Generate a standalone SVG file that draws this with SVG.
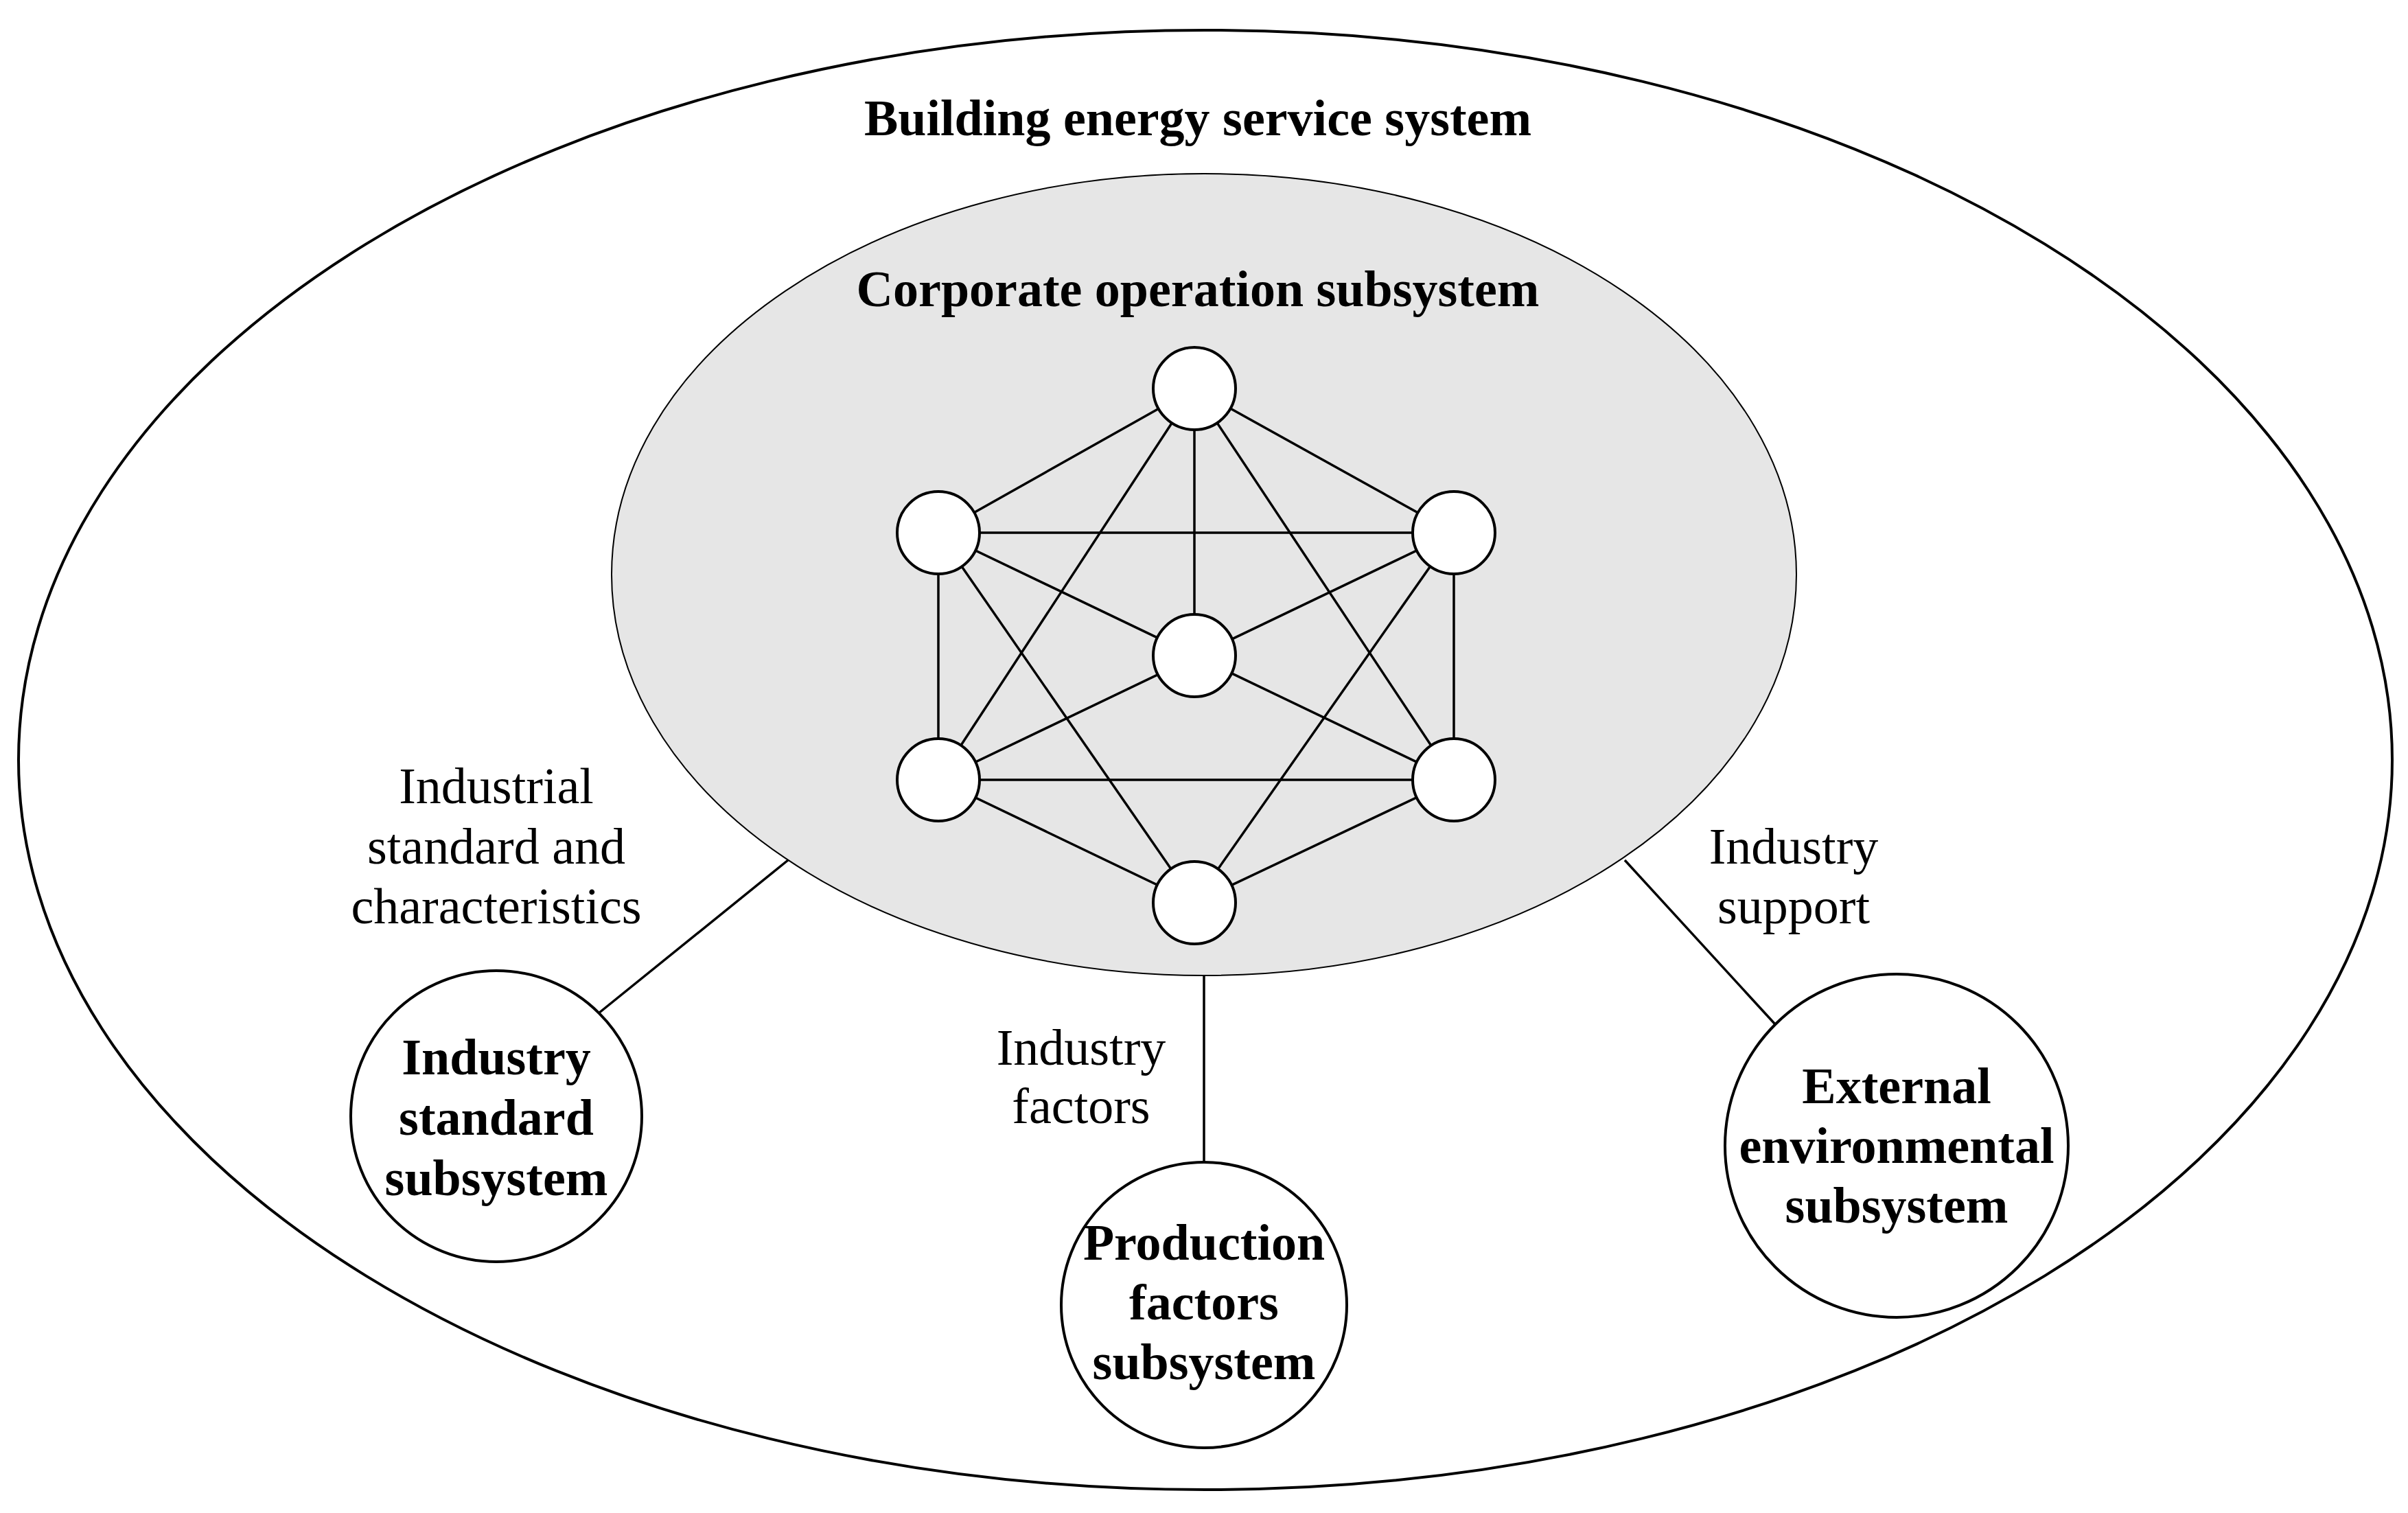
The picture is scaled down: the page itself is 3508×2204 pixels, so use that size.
<svg xmlns="http://www.w3.org/2000/svg" width="3508" height="2204" viewBox="0 0 3508 2204">
<style>
.o{fill:none;stroke:#000;stroke-width:4}
.n{fill:#fff;stroke:#000;stroke-width:4}
.e line{stroke:#000;stroke-width:3.5}
text{font-family:"Liberation Serif",serif;font-size:74px;text-anchor:middle;dominant-baseline:central;fill:#000}
.b{font-weight:bold}
</style>
<rect width="3508" height="2204" fill="#fff"/>
<g id="outer"><ellipse class="o" cx="1756" cy="1107" rx="1729" ry="1063"/><text class="b" x="1745" y="172">Building energy service system</text></g>
<g id="connectors" class="e">
<line x1="1148" y1="1253" x2="872" y2="1476"/>
<line x1="1754" y1="1420" x2="1754" y2="1693"/>
<line x1="2367" y1="1253" x2="2586" y2="1492"/>
</g>
<g id="corporate"><ellipse cx="1754" cy="837" rx="863" ry="584" fill="#e6e6e6" stroke="#000" stroke-width="2"/><text class="b" x="1745" y="421">Corporate operation subsystem</text></g>
<g id="network-edges" class="e">
<line x1="1740" y1="566" x2="1367" y2="776"/><line x1="1740" y1="566" x2="2118" y2="776"/>
<line x1="1740" y1="566" x2="1740" y2="955"/><line x1="1740" y1="566" x2="1367" y2="1136"/>
<line x1="1740" y1="566" x2="2118" y2="1136"/>
<line x1="1367" y1="776" x2="2118" y2="776"/><line x1="1367" y1="776" x2="1367" y2="1136"/>
<line x1="2118" y1="776" x2="2118" y2="1136"/><line x1="1367" y1="1136" x2="2118" y2="1136"/>
<line x1="1367" y1="776" x2="2118" y2="1136"/><line x1="2118" y1="776" x2="1367" y2="1136"/>
<line x1="1367" y1="776" x2="1740" y2="1315"/><line x1="2118" y1="776" x2="1740" y2="1315"/>
<line x1="1367" y1="1136" x2="1740" y2="1315"/><line x1="2118" y1="1136" x2="1740" y2="1315"/>
</g>
<g id="network-nodes">
<circle class="n" cx="1740" cy="566" r="60"/><circle class="n" cx="1367" cy="776" r="60"/>
<circle class="n" cx="2118" cy="776" r="60"/><circle class="n" cx="1740" cy="955" r="60"/>
<circle class="n" cx="1367" cy="1136" r="60"/><circle class="n" cx="2118" cy="1136" r="60"/>
<circle class="n" cx="1740" cy="1315" r="60"/>
</g>
<g id="labels">
<text x="723" y="1145">Industrial</text><text x="723" y="1233">standard and</text><text x="723" y="1320">characteristics</text>
<text x="2613" y="1233">Industry</text><text x="2613" y="1320">support</text>
<text x="1575" y="1526">Industry</text><text x="1575" y="1611">factors</text>
</g>
<g id="industry-standard"><circle class="n" cx="723" cy="1626" r="212"/><text class="b" x="723" y="1540">Industry</text><text class="b" x="723" y="1628">standard</text><text class="b" x="723" y="1716">subsystem</text></g>
<g id="production-factors"><circle class="n" cx="1754" cy="1901" r="208"/><text class="b" x="1754" y="1810">Production</text><text class="b" x="1754" y="1897">factors</text><text class="b" x="1754" y="1984">subsystem</text></g>
<g id="external-environmental"><circle class="n" cx="2763" cy="1669" r="250"/><text class="b" x="2763" y="1582">External</text><text class="b" x="2763" y="1669">environmental</text><text class="b" x="2763" y="1756">subsystem</text></g>
</svg>
